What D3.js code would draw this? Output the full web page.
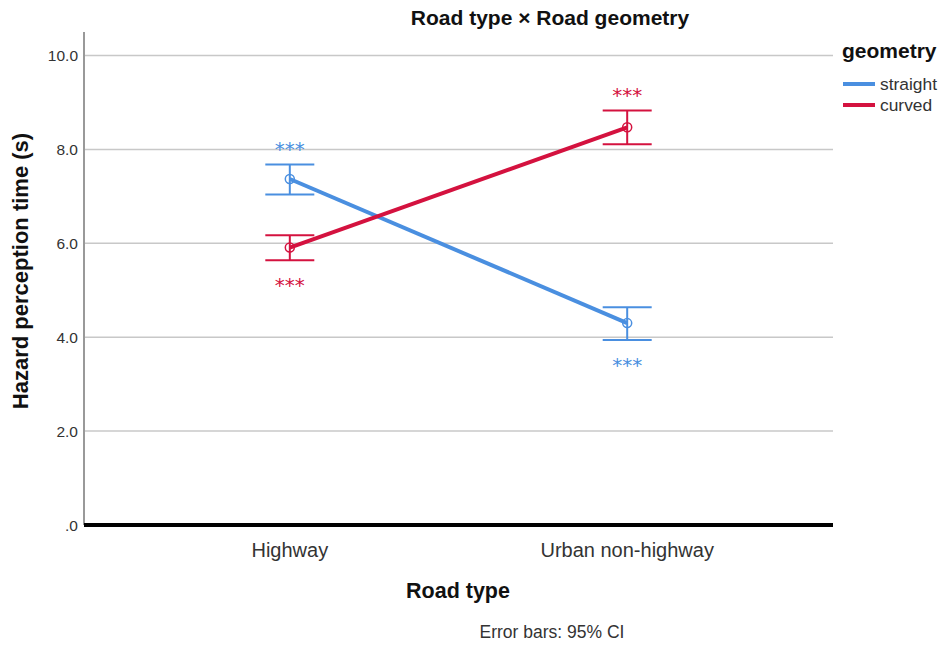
<!DOCTYPE html>
<html><head><meta charset="utf-8">
<script src="https://cdn.jsdelivr.net/npm/d3@7"></script>
<style>body{margin:0;background:#fff;} text{font-family:"Liberation Sans",Arial,sans-serif;}</style>
</head><body>
<svg id="c" width="941" height="645"></svg>
<script>
const categories = ["Highway", "Urban non-highway"];
const seriesNames = ["straight", "curved"];
const straightMean = [7.37, 4.30];
const straightLow = [7.04, 3.94];
const straightHigh = [7.68, 4.64];
const curvedMean = [5.91, 8.47];
const curvedLow = [5.64, 8.11];
const curvedHigh = [6.17, 8.83];
const yTicks = [0, 2, 4, 6, 8, 10];
const yTickLabels = [".0", "2.0", "4.0", "6.0", "8.0", "10.0"];
const colors = ["#4a8fe0", "#d4123f"];

(function () {
const series = [
  {name: seriesNames[0], mean: straightMean, low: straightLow, high: straightHigh, color: colors[0], starPos: ["above","below"]},
  {name: seriesNames[1], mean: curvedMean, low: curvedLow, high: curvedHigh, color: colors[1], starPos: ["below","above"]}
];

const svg = d3.select("#c");
const pLeft = 84, pRight = 833, pTop = 32, pBottom = 525;
const y = d3.scaleLinear().domain([0, 10]).range([525, 55.5]);
const x = d3.scalePoint().domain(categories).range([pLeft, pRight]).padding(0.61);

// grid
svg.append("g").selectAll("line").data(yTicks.filter(d => d > 0)).join("line")
  .attr("x1", pLeft).attr("x2", pRight).attr("y1", d => y(d)).attr("y2", d => y(d))
  .attr("stroke", "#c8c8c8").attr("stroke-width", 1.5);

// y axis line
svg.append("line").attr("x1", pLeft).attr("x2", pLeft).attr("y1", pTop).attr("y2", pBottom)
  .attr("stroke", "#999").attr("stroke-width", 2);

// y tick labels
svg.append("g").selectAll("text").data(yTicks).join("text")
  .attr("x", 78).attr("y", d => y(d) + 5.5).attr("text-anchor", "end")
  .attr("font-size", 15.5).attr("fill", "#333").text((d, i) => yTickLabels[i]);

// bottom axis
svg.append("line").attr("x1", pLeft).attr("x2", pRight).attr("y1", pBottom).attr("y2", pBottom)
  .attr("stroke", "#000").attr("stroke-width", 4);

// x tick labels
svg.append("g").selectAll("text").data(categories).join("text")
  .attr("x", d => x(d)).attr("y", 557).attr("text-anchor", "middle")
  .attr("font-size", 20).attr("fill", "#333").text(d => d);

// series
series.forEach(s => {
  const g = svg.append("g");
  const pts = categories.map((c, i) => ({c, i, m: s.mean[i], lo: s.low[i], hi: s.high[i]}));
  g.append("path").datum(pts)
    .attr("d", d3.line().x(d => x(d.c)).y(d => y(d.m)))
    .attr("fill", "none").attr("stroke", s.color).attr("stroke-width", 4);
  pts.forEach(p => {
    const cx = x(p.c);
    g.append("line").attr("x1", cx).attr("x2", cx).attr("y1", y(p.hi)).attr("y2", y(p.lo)).attr("stroke", s.color).attr("stroke-width", 2);
    [p.hi, p.lo].forEach(v => g.append("line").attr("x1", cx - 24.5).attr("x2", cx + 24.5).attr("y1", y(v)).attr("y2", y(v)).attr("stroke", s.color).attr("stroke-width", 2));
    g.append("circle").attr("cx", cx).attr("cy", y(p.m)).attr("r", 4.5).attr("fill", "none").attr("stroke", s.color).attr("stroke-width", 1.5);
    const center = s.starPos[p.i] === "above" ? y(p.hi) - 19 : y(p.lo) + 21;
    g.append("text").attr("x", cx).attr("y", center + 11).attr("text-anchor", "middle")
      .style("font-family", "'DejaVu Sans', sans-serif")
      .attr("font-size", 20).attr("fill", s.color).text("***");
  });
});

// title
svg.append("text").attr("x", 550).attr("y", 25).attr("text-anchor", "middle")
  .attr("font-size", 21).attr("font-weight", "bold").attr("fill", "#111").text("Road type × Road geometry");

// axis titles
svg.append("text").attr("transform", "translate(28," + 271 + ") rotate(-90)").attr("text-anchor", "middle")
  .attr("font-size", 22).attr("font-weight", "bold").attr("fill", "#111").text("Hazard perception time (s)");
svg.append("text").attr("x", 458).attr("y", 598).attr("text-anchor", "middle")
  .attr("font-size", 21.5).attr("font-weight", "bold").attr("fill", "#111").text("Road type");
svg.append("text").attr("x", 552).attr("y", 638).attr("text-anchor", "middle")
  .attr("font-size", 17.5).attr("fill", "#333").text("Error bars: 95% CI");

// legend
const lg = svg.append("g");
lg.append("text").attr("x", 842).attr("y", 58).attr("font-size", 21).attr("font-weight", "bold").attr("fill", "#111").text("geometry");
series.forEach((s, i) => {
  const ly = 84 + i * 21;
  lg.append("line").attr("x1", 843).attr("x2", 875).attr("y1", ly).attr("y2", ly).attr("stroke", s.color).attr("stroke-width", 4);
  lg.append("text").attr("x", 880).attr("y", ly + 6).attr("font-size", 17.4).attr("fill", "#333").text(s.name);
});
})();
</script>
</body></html>
